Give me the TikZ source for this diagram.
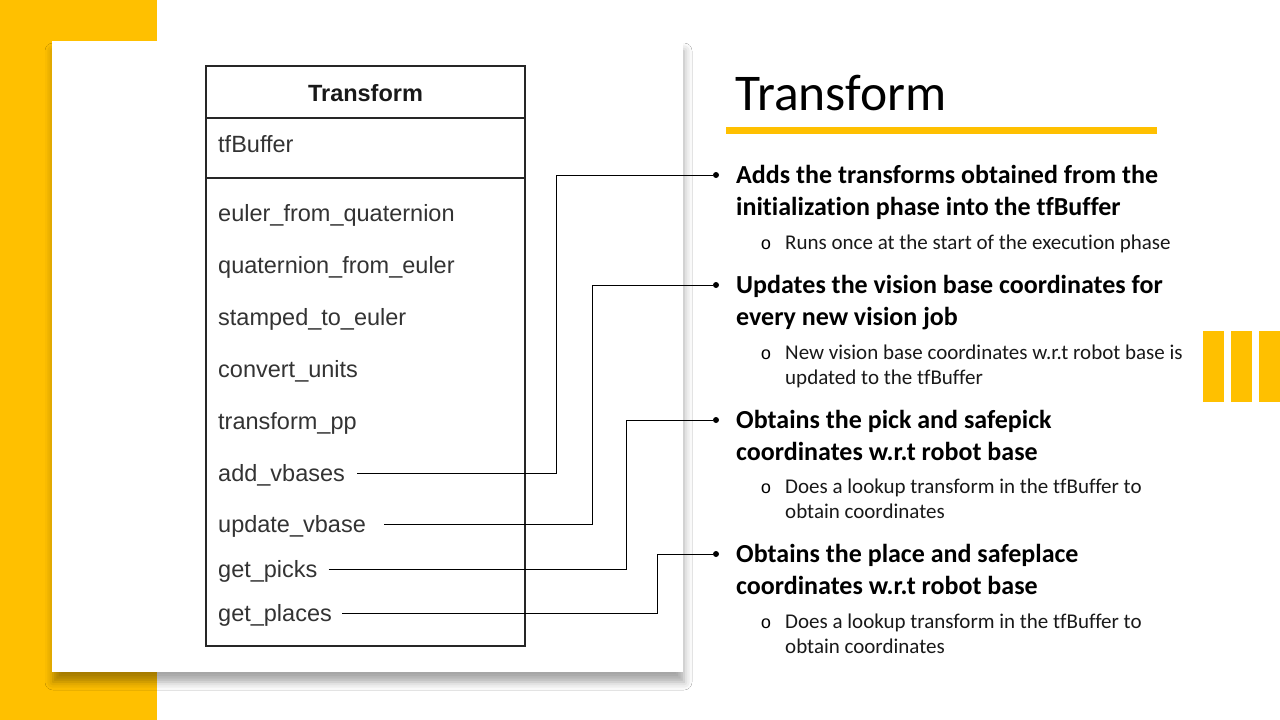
\documentclass[tikz,border=0pt]{standalone}
\usepackage{fontspec}
\setmainfont{Carlito}[Ligatures=NoCommon]
\newfontfamily\umlfont{Liberation Sans}
\newfontfamily\markfont{Liberation Mono}
\usepackage{xcolor}
\usetikzlibrary{shadows.blur}
\definecolor{gold}{HTML}{FFC000}
\definecolor{umltext}{HTML}{333333}
\tikzset{
    method/.style={anchor=west, inner sep=0pt, text height=20pt, text depth=4pt,
        font=\umlfont\fontsize{23.5}{26}\selectfont, text=umltext},
    link/.style={draw=black, line width=1pt},
    dot/.style={circle, fill=black, inner sep=0pt, minimum size=6pt},
    point/.style={anchor=base west, inner sep=0pt, align=left,
        font=\fontsize{26}{32}\selectfont\bfseries},
    subpoint/.style={anchor=base west, inner sep=0pt, align=left,
        font=\fontsize{21}{25}\selectfont, text=black!90},
    ring/.style={anchor=base, inner sep=0pt, font=\markfont\fontsize{18}{20}\selectfont},
}
\begin{document}
\begin{tikzpicture}[x=1pt, y=-1pt]
    \useasboundingbox (0,0) rectangle (1280,720);
    % Hintergrund
    \fill[white] (0,0) rectangle (1280,720);
    \fill[gold] (0,0) rectangle (157,720);
    \fill[gold] (1203,331) rectangle (1224,402);
    \fill[gold] (1231,331) rectangle (1252,402);
    \fill[gold] (1259,331) rectangle (1280,402);
    % Karte
    \fill[white, blur shadow={shadow xshift=1pt, shadow yshift=-10pt,
        shadow blur radius=8pt, shadow opacity=35}] (52,41) rectangle (683,672);

    % Klassenkasten
    \draw[line width=1.8pt, draw=black!85] (206,66) rectangle (525,646);
    \draw[line width=1.8pt, draw=black!85] (206,118) -- (525,118);
    \draw[line width=1.8pt, draw=black!85] (206,178) -- (525,178);
    \node[inner sep=0pt, anchor=base, font=\umlfont\bfseries\fontsize{23.5}{26}\selectfont,
        text=black!90] (cls) at (365.5,101) {Transform};
    \node[method] (buf) at (218,144) {tfBuffer};

    % Methoden
    \node[method] (m1) at (218,213) {euler\_from\_quaternion};
    \node[method] (m2) at (218,265) {quaternion\_from\_euler};
    \node[method] (m3) at (218,317) {stamped\_to\_euler};
    \node[method] (m4) at (218,369) {convert\_units};
    \node[method] (m5) at (218,421) {transform\_pp};
    \node[method] (addv) at (218,473) {add\_vbases};
    \node[method] (updv) at (218,524) {update\_vbase};
    \node[method] (picks) at (218,569) {get\_picks};
    \node[method] (places) at (218,613) {get\_places};

    % Titel
    \node[anchor=base west, inner sep=0pt, font=\fontsize{51.5}{56}\selectfont] (title)
        at (735,110) {Transform};
    \fill[gold] (726,127) rectangle (1157,134);

    % Punkte (Anker auf der letzten Zeile)
    \node[dot] (b1) at (716,175) {};
    \node[dot] (b2) at (716,285) {};
    \node[dot] (b3) at (716,420) {};
    \node[dot] (b4) at (716,554) {};
    \node[point] (p1) at (736,215) {Adds the transforms obtained from the\\initialization phase into the tfBuffer};
    \node[point] (p2) at (736,325) {Updates the vision base coordinates for\\every new vision job};
    \node[point] (p3) at (736,460) {Obtains the pick and safepick\\coordinates w.r.t robot base};
    \node[point] (p4) at (736,594) {Obtains the place and safeplace\\coordinates w.r.t robot base};

    % Unterpunkte
    \node[ring] (r1) at (766,249) {o};
    \node[ring] (r2) at (766,359) {o};
    \node[ring] (r3) at (766,493) {o};
    \node[ring] (r4) at (766,628) {o};
    \node[subpoint] (s1) at (785,249) {Runs once at the start of the execution phase};
    \node[subpoint] (s2) at (785,384) {New vision base coordinates w.r.t robot base is\\updated to the tfBuffer};
    \node[subpoint] (s3) at (785,518) {Does a lookup transform in the tfBuffer to\\obtain coordinates};
    \node[subpoint] (s4) at (785,653) {Does a lookup transform in the tfBuffer to\\obtain coordinates};

    % Verbindungen
    \draw[link] ([xshift=12pt]addv.east) -| ([xshift=-160pt]b1.center) -- (b1);
    \draw[link] ([xshift=18pt]updv.east) -| ([xshift=-124pt]b2.center) -- (b2);
    \draw[link] ([xshift=11pt]picks.east) -| ([xshift=-90pt]b3.center) -- (b3);
    \draw[link] ([xshift=10pt]places.east) -| ([xshift=-59pt]b4.center) -- (b4);
\end{tikzpicture}
\end{document}
